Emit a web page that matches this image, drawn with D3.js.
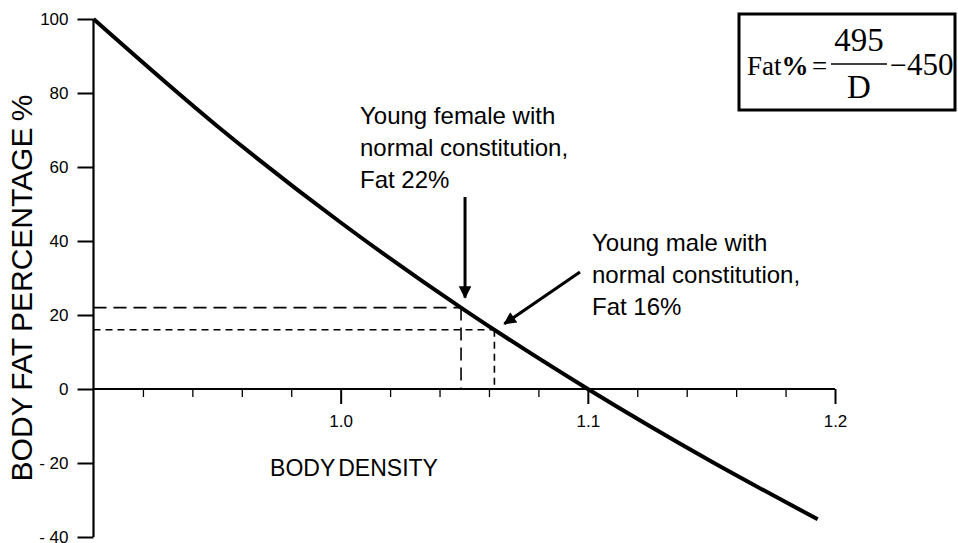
<!DOCTYPE html>
<html><head><meta charset="utf-8">
<script src="https://cdn.jsdelivr.net/npm/d3@7"></script>
<style>
html,body{margin:0;padding:0;background:#fff;}
svg{display:block;}
text{font-family:"Liberation Sans",Arial,sans-serif;fill:#000;}
</style></head>
<body>
<svg id="chart" width="958" height="543"></svg>
<script>
// ---- data ----
const density = [0.90, 0.95, 1.00, 1.05, 1.10, 1.15, 1.193];
const fatPct  = [100, 71.1, 45.0, 21.4, 0.0, -19.6, -35.2];
const yTicks = [100, 80, 60, 40, 20, 0, -20, -40];
const yTickLabels = ["100", "80", "60", "40", "20", "0", "- 20", "- 40"];
const xMajorTicks = [1.0, 1.1, 1.2];
const xMajorLabels = ["1.0", "1.1", "1.2"];
const xMinorTicks = [0.92, 0.94, 0.96, 0.98, 1.02, 1.04, 1.06, 1.08, 1.12, 1.14, 1.16, 1.18];
const markerNames = ["female", "male"];
const markerFat = [22, 16];
const markerDensity = [1.0487, 1.0622];
const femaleLabel = ["Young female with", "normal constitution,", "Fat 22%"];
const maleLabel = ["Young male with", "normal constitution,", "Fat 16%"];

const svg = d3.select("#chart");
const x = d3.scaleLinear().domain([0.9, 1.2]).range([93.5, 835]);
const y = d3.scaleLinear().domain([-40, 100]).range([537, 19]);

// arrow marker
svg.append("defs").append("marker")
  .attr("id", "ah").attr("viewBox", "0 0 10 10").attr("refX", 9).attr("refY", 5)
  .attr("markerWidth", 5).attr("markerHeight", 4.2).attr("markerUnits", "strokeWidth")
  .attr("orient", "auto")
  .append("path").attr("d", "M0,0 L10,5 L0,10 Z").attr("fill", "#000");

// dashed guides
const dashes = ["13,7", "7,5"];
markerFat.forEach((f, i) => {
  svg.append("line").attr("x1", x(0.9)).attr("x2", x(markerDensity[i]))
    .attr("y1", y(f)).attr("y2", y(f))
    .attr("stroke", "#000").attr("stroke-width", 1.6).attr("stroke-dasharray", dashes[i]);
  svg.append("line").attr("x1", x(markerDensity[i])).attr("x2", x(markerDensity[i]))
    .attr("y1", y(f)).attr("y2", y(0))
    .attr("stroke", "#000").attr("stroke-width", 1.6).attr("stroke-dasharray", dashes[i]);
});

// y axis
const yAxis = d3.axisLeft(y).tickValues(yTicks).tickSize(16).tickPadding(9)
  .tickFormat((d, i) => yTickLabels[i]);
const gy = svg.append("g").attr("transform", `translate(${x(0.9)},0)`).call(yAxis);
gy.select(".domain").attr("stroke-width", 2.2).attr("d", `M0,${y(100)}V${y(-40)}`);
gy.selectAll(".tick line").attr("stroke-width", 2);
gy.selectAll(".tick text").attr("dy", "0.3em").style("font-size", "17px").style("font-family", "'Liberation Sans',Arial,sans-serif");

// x axis minor
const gxm = svg.append("g").attr("transform", `translate(0,${y(0)})`)
  .call(d3.axisBottom(x).tickValues(xMinorTicks).tickSize(8).tickFormat(""));
gxm.select(".domain").remove();
gxm.selectAll(".tick line").attr("stroke-width", 1.3);
// x axis major
const gx = svg.append("g").attr("transform", `translate(0,${y(0)})`)
  .call(d3.axisBottom(x).tickValues(xMajorTicks).tickSize(15).tickPadding(11)
    .tickFormat((d, i) => xMajorLabels[i]));
gx.select(".domain").attr("stroke-width", 2.2).attr("d", `M${x(0.9)},0H${x(1.2)}`);
gx.selectAll(".tick line").attr("stroke-width", 2);
gx.selectAll(".tick text").style("font-size", "17px").style("font-family", "'Liberation Sans',Arial,sans-serif");

// main curve
const pts = density.map((d, i) => [d, fatPct[i]]);
svg.append("path").datum(pts)
  .attr("d", d3.line().x(d => x(d[0])).y(d => y(d[1])).curve(d3.curveMonotoneX))
  .attr("fill", "none").attr("stroke", "#000").attr("stroke-width", 4);

// axis titles
svg.append("text").attr("transform", "translate(32,288) rotate(-90)")
  .attr("text-anchor", "middle").style("font-size", "30px").style("word-spacing", "-2px").text("BODY FAT PERCENTAGE %");
svg.append("text").attr("x", 354).attr("y", 476)
  .attr("text-anchor", "middle").style("font-size", "23px").style("word-spacing", "-3px").text("BODY DENSITY");

// annotations
const fx = x(markerDensity[0]) + 4, fy = y(markerFat[0]);
svg.append("line").attr("x1", fx).attr("x2", fx).attr("y1", 197).attr("y2", fy - 10)
  .attr("stroke", "#000").attr("stroke-width", 3).attr("marker-end", "url(#ah)");
const mx = x(markerDensity[1]) + 10, my = y(markerFat[1]) - 6;
svg.append("line").attr("x1", 580).attr("x2", mx).attr("y1", 272).attr("y2", my)
  .attr("stroke", "#000").attr("stroke-width", 3).attr("marker-end", "url(#ah)");

femaleLabel.forEach((t, i) => {
  svg.append("text").attr("x", 360).attr("y", 124 + i * 32).style("font-size", "24px").text(t);
});
maleLabel.forEach((t, i) => {
  svg.append("text").attr("x", 592).attr("y", 251 + i * 32).style("font-size", "24px").text(t);
});

// formula box
svg.append("rect").attr("x", 739).attr("y", 14).attr("width", 216).attr("height", 96)
  .attr("fill", "#fff").attr("stroke", "#000").attr("stroke-width", 3);
const serif = "'Liberation Serif','Times New Roman',serif";
const fm = svg.append("g");
const ft = fm.append("text").attr("x", 747).attr("y", 75).style("font-size", "27px").style("font-family", serif);
ft.append("tspan").text("Fat");
ft.append("tspan").style("font-weight", "bold").text("%");
fm.append("text").attr("x", 812).attr("y", 75).style("font-size", "27px").style("font-family", serif).text("=");
fm.append("line").attr("x1", 831).attr("x2", 887).attr("y1", 64).attr("y2", 64).attr("stroke", "#000").attr("stroke-width", 1.6);
fm.append("text").attr("x", 859).attr("y", 51).attr("text-anchor", "middle").style("font-size", "33px").style("font-family", serif).text("495");
fm.append("text").attr("x", 859).attr("y", 98).attr("text-anchor", "middle").style("font-size", "33px").style("font-family", serif).text("D");
fm.append("text").attr("x", 890).attr("y", 75).style("font-size", "30px").style("font-family", serif).text("\u2212");
fm.append("text").attr("x", 907).attr("y", 75).style("font-size", "31px").style("font-family", serif).text("450");
</script>
</body></html>
